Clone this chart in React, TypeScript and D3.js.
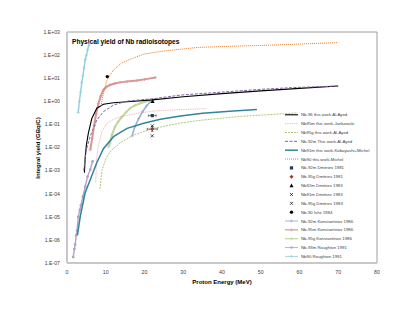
import * as d3 from 'd3';

// ---- data ----
const nb96E = [4.5, 4.7, 5, 5.5, 6.4, 7.7, 9.4, 12, 15.5, 22, 30, 40, 50, 60, 70];
const nb96Y = [8e-4, 4e-3, 0.0126, 0.041, 0.18, 0.5, 0.74, 0.87, 0.95, 1.15, 1.58, 2.14, 2.82, 3.63, 4.57];

const nb95mE = [7.4, 7.6, 8, 9, 10.3, 12, 13.7, 18, 22.4, 29.3, 36];
const nb95mY = [3.2e-4, 2.5e-3, 0.01, 0.05, 0.112, 0.166, 0.214, 0.3, 0.38, 0.44, 0.48];

const nb95gE = [8.5, 9, 10, 11.1, 13.7, 17.2, 22.4, 29.3, 34.5, 45, 57.8, 59.5];
const nb95gY = [1.6e-4, 1e-3, 3.2e-3, 6.6e-3, 0.0158, 0.0347, 0.0676, 0.115, 0.151, 0.224, 0.302, 0.316];

const nb92mE = [4.3, 5, 6, 7, 7.7, 9.4, 12, 15.5, 22.4, 29.3, 40, 50, 58, 70];
const nb92mY = [1e-3, 7.9e-3, 0.0316, 0.079, 0.155, 0.355, 0.69, 1.02, 1.3, 1.86, 2.5, 3.3, 3.9, 4.6];

const nb91mE = [2.7, 3.4, 4.66, 6, 7.7, 9.4, 12, 15.5, 19.8, 24.1, 29.3, 35, 42, 49];
const nb91mY = [1.6e-6, 1e-5, 1.07e-4, 4e-4, 2.24e-3, 8.9e-3, 0.0295, 0.0676, 0.112, 0.166, 0.229, 0.302, 0.372, 0.447];

const nb90E = [8.8, 9.4, 10.3, 12, 14, 16.3, 20, 25, 33.6, 42, 52.6, 60, 70];
const nb90Y = [0.63, 2.24, 8.3, 22.9, 44.7, 66, 112, 151, 214, 240, 269, 302, 347];

const konst92mE = [16.8, 17.5, 18.5, 19.5, 20.5, 21.5, 22.3];
const konst92mY = [0.0316, 0.079, 0.178, 0.355, 0.63, 0.955, 1.2];

const konst95mE = [6.0, 6.5, 7.0, 7.5, 8.1, 8.7, 9.4, 10.2, 11.1, 12.3, 13.7, 15.5, 18, 20, 22.8];
const konst95mY = [7.9e-3, 0.025, 0.089, 0.28, 0.79, 1.66, 3.1, 4.2, 5.1, 5.9, 6.6, 7.2, 7.9, 8.9, 10.7];

const konst95gE = [10.7, 11.1, 11.6, 12.4, 13.2, 14.2, 15.2, 16.3, 17.5, 18.9, 20.3, 21.9];
const konst95gY = [0.0107, 0.0158, 0.0355, 0.079, 0.132, 0.214, 0.331, 0.5, 0.66, 0.81, 0.98, 1.15];

const rough93mE = [1.6, 1.9, 2.1, 2.4, 2.6, 2.9, 3.3, 3.6, 4.1, 4.7, 5.3, 6.0, 6.6];
const rough93mY = [1.8e-7, 4e-7, 6.3e-7, 1.6e-6, 2.5e-6, 1e-5, 2e-5, 3.2e-5, 7.4e-5, 2e-4, 5.5e-4, 1.1e-3, 2.5e-3];

const rough90E = [2.9, 3.2, 3.5, 3.8, 4.1, 4.4, 4.7, 5.0, 5.3, 5.6, 5.8];
const rough90Y = [0.33, 1, 2.5, 6.3, 12.6, 28, 63, 100, 166, 251, 324];

// single measurements: [E, yield, E error, yield low, yield high]
const dmitriev81_92m = [22, 0.24, 1, 0.24, 0.24];
const dmitriev81_95g = [22, 0.063, 1.3, 0.05, 0.08];
const dmitriev83_92m = [22.1, 1.0, 0, 1.0, 1.0];
const dmitriev83_91m = [22, 0.032, 0, 0.032, 0.032];
const dmitriev83_95g = [22, 0.087, 0, 0.087, 0.087];
const ishii84_90 = [10.4, 11.7, 0, 11.7, 11.7];

const yTicks = [1e3, 1e2, 1e1, 1, 1e-1, 1e-2, 1e-3, 1e-4, 1e-5, 1e-6, 1e-7];
const yTickLabels = ['1.E+03', '1.E+02', '1.E+01', '1.E+00', '1.E-01', '1.E-02', '1.E-03', '1.E-04', '1.E-05', '1.E-06', '1.E-07'];
const xTicks = [0, 10, 20, 30, 40, 50, 60, 70, 80];

type Line = { name: string; e: number[]; y: number[]; color: string; width: number; dash?: string; marker?: string };

const lines: Line[] = [
  { name: 'Nb-96 this work-Al-Ayed', e: nb96E, y: nb96Y, color: '#000000', width: 1.1 },
  { name: 'Nb95m this work-Jankowski', e: nb95mE, y: nb95mY, color: '#e6a3a1', width: 0.8, dash: '1 0.8' },
  { name: 'Nb95g this work-Al-Ayed', e: nb95gE, y: nb95gY, color: '#9bbb59', width: 0.8, dash: '2 1' },
  { name: 'Nb-92m This work-Al-Ayed', e: nb92mE, y: nb92mY, color: '#8064a2', width: 1, dash: '3 1.5' },
  { name: 'Nb91m this work-Kobayashi+Michel', e: nb91mE, y: nb91mY, color: '#31849b', width: 1.5 },
  { name: 'Nb90 this work-Michel', e: nb90E, y: nb90Y, color: '#e46c0a', width: 0.9, dash: '1 1' },
];

const markerLines: Line[] = [
  { name: 'Nb-92m Konstantinov 1986', e: konst92mE, y: konst92mY, color: '#95b3d7', width: 1.6, marker: 'plus' },
  { name: 'Nb-95m Konstantinov 1986', e: konst95mE, y: konst95mY, color: '#d99694', width: 2, marker: 'plus' },
  { name: 'Nb-95g Konstantinov 1986', e: konst95gE, y: konst95gY, color: '#c3d69b', width: 2, marker: 'plus' },
  { name: 'Nb-93m Roughton 1991', e: rough93mE, y: rough93mY, color: '#b3a2c7', width: 1.4, marker: 'circle' },
  { name: 'Nb90 Roughton 1991', e: rough90E, y: rough90Y, color: '#93cddd', width: 1.4, marker: 'plus' },
];

const points = [
  { name: 'Nb-92m Dmitriev 1981', d: dmitriev81_92m, shape: 'square', color: '#1f3864' },
  { name: 'Nb-95g Dmitriev 1981', d: dmitriev81_95g, shape: 'diamond', color: '#953735' },
  { name: 'Nb92m Dmitriev 1983', d: dmitriev83_92m, shape: 'triangle', color: '#000000' },
  { name: 'Nb91m Dmitriev 1983', d: dmitriev83_91m, shape: 'x', color: '#000000' },
  { name: 'Nb-95g Dmitriev 1983', d: dmitriev83_95g, shape: 'x', color: '#000000' },
  { name: 'Nb-90 Ishii 1984', d: ishii84_90, shape: 'circle', color: '#000000' },
];

const FONT = '"Liberation Sans", Arial, sans-serif';

function Marker({ shape, x, y, color }: { shape: string; x: number; y: number; color: string }) {
  if (shape === 'square') return <rect x={x - 1.6} y={y - 1.6} width={3.2} height={3.2} fill={color} />;
  if (shape === 'diamond') return <path d={`M${x},${y - 2}L${x + 2},${y}L${x},${y + 2}L${x - 2},${y}Z`} fill={color} />;
  if (shape === 'triangle') return <path d={`M${x},${y - 2}L${x + 2},${y + 1.6}L${x - 2},${y + 1.6}Z`} fill={color} />;
  if (shape === 'circle') return <circle cx={x} cy={y} r={1.7} fill={color} />;
  if (shape === 'x')
    return <path d={`M${x - 1.5},${y - 1.5}L${x + 1.5},${y + 1.5}M${x + 1.5},${y - 1.5}L${x - 1.5},${y + 1.5}`} stroke={color} strokeWidth={0.7} />;
  return null;
}

export default function App() {
  const W = 415;
  const H = 321;
  const left = 67, right = 377, top = 32, bottom = 263;
  const x = d3.scaleLinear().domain([0, 80]).range([left, right]);
  const y = d3.scaleLog().domain([1e-7, 1e3]).range([bottom, top]);
  const line = d3.line<[number, number]>().x((d) => x(d[0])).y((d) => y(d[1]));
  const pairs = (l: Line) => l.e.map((e, i) => [e, l.y[i]] as [number, number]);

  const legendItems = [
    ...lines.map((l) => ({ kind: 'line', l })),
    ...points.map((p) => ({ kind: 'point', p })),
    ...markerLines.map((l) => ({ kind: 'mline', l })),
  ] as any[];
  const legY = d3.scaleLinear().domain([0, legendItems.length - 1]).range([114.8, 256.4]);

  return (
    <svg width={W} height={H} style={{ display: 'block', position: 'absolute', left: 0, top: 0 }} fontFamily={FONT}>
      <rect width={W} height={H} fill="#fff" />
      {/* plot frame */}
      <line x1={left} x2={right} y1={top} y2={top} stroke="#868686" strokeWidth={0.8} />
      <line x1={right} x2={right} y1={top} y2={bottom} stroke="#868686" strokeWidth={0.8} />
      <line x1={left} x2={left} y1={top} y2={bottom} stroke="#c8c8c8" strokeWidth={2} />
      <line x1={left} x2={right} y1={bottom} y2={bottom} stroke="#c8c8c8" strokeWidth={2} />

      {yTicks.map((t, i) => (
        <text key={t} x={60} y={y(t) + 1.8} fontSize={5.2} textAnchor="end" fill="#404040">
          {yTickLabels[i]}
        </text>
      ))}
      {xTicks.map((t) => (
        <text key={t} x={x(t)} y={273.5} fontSize={5.2} textAnchor="middle" fill="#404040">
          {t}
        </text>
      ))}

      <text x={222} y={284} fontSize={6} fontWeight="bold" textAnchor="middle" fill="#000">
        Proton Energy (MeV)
      </text>
      <text transform="translate(40,148) rotate(-90)" fontSize={6} fontWeight="bold" textAnchor="middle" fill="#000">
        Integral yield (GBq/C)
      </text>
      <text x={72} y={44.3} fontSize={6.6} fontWeight="bold" fill="#000">
        Physical yield of Nb radioisotopes
      </text>

      {/* reference lines with markers */}
      {markerLines.map((l) => (
        <g key={l.name}>
          <path d={line(pairs(l)) || ''} fill="none" stroke={l.color} strokeWidth={l.width} />
          {pairs(l).map((p, i) =>
            l.marker === 'circle' ? (
              <circle key={i} cx={x(p[0])} cy={y(p[1])} r={1.4} fill={l.color} />
            ) : (
              <path
                key={i}
                d={`M${x(p[0]) - 1.6},${y(p[1])}h3.2M${x(p[0])},${y(p[1]) - 1.6}v3.2`}
                stroke={l.color}
                strokeWidth={0.7}
              />
            )
          )}
        </g>
      ))}

      {/* this work */}
      {lines.map((l) => (
        <path key={l.name} d={line(pairs(l)) || ''} fill="none" stroke={l.color} strokeWidth={l.width} strokeDasharray={l.dash} />
      ))}

      {/* single measurements with error bars */}
      {points.map((p) => {
        const [e, v, ex, lo, hi] = p.d;
        const px = x(e), py = y(v);
        return (
          <g key={p.name}>
            {ex > 0 && (
              <path
                d={`M${x(e - ex)},${py}H${x(e + ex)}M${x(e - ex)},${py - 1.2}v2.4M${x(e + ex)},${py - 1.2}v2.4`}
                stroke="#000"
                strokeWidth={0.5}
              />
            )}
            {hi > lo && (
              <path d={`M${px},${y(hi)}V${y(lo)}M${px - 1.2},${y(hi)}h2.4M${px - 1.2},${y(lo)}h2.4`} stroke="#000" strokeWidth={0.5} />
            )}
            <Marker shape={p.shape} x={px} y={py} color={p.color} />
          </g>
        );
      })}

      {/* legend */}
      {legendItems.map((it, i) => {
        const ly = legY(i);
        const name = it.kind === 'point' ? it.p.name : it.l.name;
        return (
          <g key={i}>
            {it.kind === 'line' && (
              <line x1={285} x2={298} y1={ly} y2={ly} stroke={it.l.color} strokeWidth={it.l.width} strokeDasharray={it.l.dash} />
            )}
            {it.kind === 'mline' && (
              <g>
                <line x1={285} x2={298} y1={ly} y2={ly} stroke={it.l.color} strokeWidth={it.l.width * 0.6} />
                {it.l.marker === 'circle' ? (
                  <circle cx={291.5} cy={ly} r={1.2} fill={it.l.color} />
                ) : (
                  <path d={`M290,${ly}h3M291.5,${ly - 1.5}v3`} stroke={it.l.color} strokeWidth={0.6} />
                )}
              </g>
            )}
            {it.kind === 'point' && <Marker shape={it.p.shape} x={291.5} y={ly} color={it.p.color} />}
            <text x={301} y={ly + 1.5} fontSize={4.3} fill="#404040">
              {name}
            </text>
          </g>
        );
      })}
    </svg>
  );
}
